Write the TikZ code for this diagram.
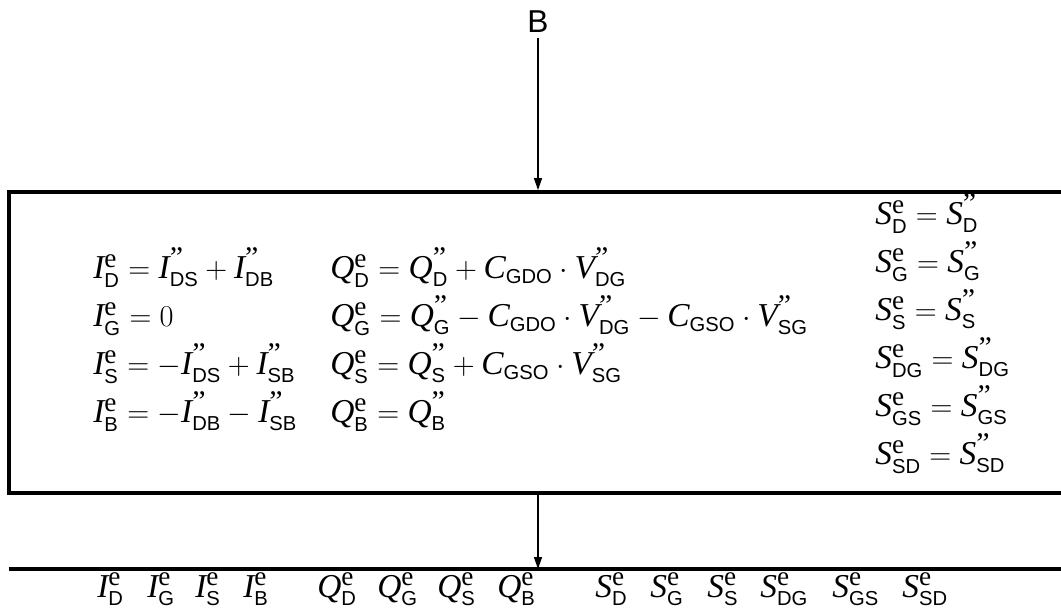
\documentclass[tikz,border=0pt]{standalone}
\usepackage{amsmath}
\usepackage{fontspec}
\setmainfont{Liberation Serif}
\setsansfont{Liberation Sans}
\usetikzlibrary{arrows.meta}
\DeclareMathSizes{19}{19}{11.5}{8}

% external and internal quantities
\newcommand{\supmark}[2]{\mbox{\fontsize{#1}{#1}\selectfont #2}}
\newcommand{\ext}[2]{\mathit{#1}^{\supmark{15.5}{e}}_{\mathsf{#2}}}
\newcommand{\intl}[2]{\mathit{#1}^{\supmark{17}{\textquotedblright}}_{\mathsf{#2}}}
\newcommand{\coef}[1]{\mathit{C}_{\mathsf{#1}}}

\tikzset{
  eqn/.style={anchor=base west, inner sep=0pt, font=\fontsize{19}{23}\selectfont},
  heavy/.style={line width=2.2pt},
  flow/.style={line width=0.8pt, -{Triangle[length=2.4mm,width=1.6mm]}}
}

\begin{document}
\begin{tikzpicture}
    \clip (0,0) rectangle (21.22,-12.28);

    % Input terminal
    \node[font=\fontsize{18}{21}\selectfont\sffamily, inner sep=3pt] (B) at (10.76,-0.44) {B};

    % Mapping box
    \node[heavy, draw, minimum width=21.42cm, minimum height=6.02cm, inner sep=0pt] (frame) at (10.89,-6.85) {};
    \draw[flow] (B.south) -- (B.south |- frame.north);

    % Currents
    \node[eqn] (id) at (1.86,-5.58) {$\ext{I}{D} = \intl{I}{DS} + \intl{I}{DB}$};
    \node[eqn] (ig) at (1.86,-6.54) {$\ext{I}{G} = 0$};
    \node[eqn] (is) at (1.86,-7.50) {$\ext{I}{S} = -\intl{I}{DS} + \intl{I}{SB}$};
    \node[eqn] (ib) at (1.86,-8.46) {$\ext{I}{B} = -\intl{I}{DB} - \intl{I}{SB}$};

    % Charges
    \node[eqn] (qd) at (6.60,-5.58) {$\ext{Q}{D} = \intl{Q}{D} + \coef{GDO}\cdot\intl{V}{DG}$};
    \node[eqn] (qg) at (6.60,-6.54) {$\ext{Q}{G} = \intl{Q}{G} - \coef{GDO}\cdot\intl{V}{DG} - \coef{GSO}\cdot\intl{V}{SG}$};
    \node[eqn] (qs) at (6.60,-7.50) {$\ext{Q}{S} = \intl{Q}{S} + \coef{GSO}\cdot\intl{V}{SG}$};
    \node[eqn] (qb) at (6.60,-8.46) {$\ext{Q}{B} = \intl{Q}{B}$};

    % Noise sources
    \node[eqn] (sd) at (17.50,-4.50) {$\ext{S}{D} = \intl{S}{D}$};
    \node[eqn] (sg) at (17.50,-5.46) {$\ext{S}{G} = \intl{S}{G}$};
    \node[eqn] (ss) at (17.50,-6.42) {$\ext{S}{S} = \intl{S}{S}$};
    \node[eqn] (sdg) at (17.50,-7.38) {$\ext{S}{DG} = \intl{S}{DG}$};
    \node[eqn] (sgs) at (17.50,-8.34) {$\ext{S}{GS} = \intl{S}{GS}$};
    \node[eqn] (ssd) at (17.50,-9.30) {$\ext{S}{SD} = \intl{S}{SD}$};

    % Output bus
    \coordinate (busl) at (0.18,-11.38);
    \coordinate (busr) at (21.60,-11.38);
    \draw[heavy] (busl) -- (busr);
    \draw[flow] (frame.south -| B) -- (B |- busl);

    % Output quantities
    \node[eqn] (oid) at (1.94,-11.94) {$\ext{I}{D}$};
    \node[eqn] (oig) at (2.94,-11.94) {$\ext{I}{G}$};
    \node[eqn] (ois) at (3.90,-11.94) {$\ext{I}{S}$};
    \node[eqn] (oib) at (4.86,-11.94) {$\ext{I}{B}$};
    \node[eqn] (oqd) at (6.34,-11.94) {$\ext{Q}{D}$};
    \node[eqn] (oqg) at (7.54,-11.94) {$\ext{Q}{G}$};
    \node[eqn] (oqs) at (8.74,-11.94) {$\ext{Q}{S}$};
    \node[eqn] (oqb) at (9.94,-11.94) {$\ext{Q}{B}$};
    \node[eqn] (osd) at (11.90,-11.94) {$\ext{S}{D}$};
    \node[eqn] (osg) at (13.00,-11.94) {$\ext{S}{G}$};
    \node[eqn] (oss) at (14.14,-11.94) {$\ext{S}{S}$};
    \node[eqn] (osdg) at (15.20,-11.94) {$\ext{S}{DG}$};
    \node[eqn] (osgs) at (16.64,-11.94) {$\ext{S}{GS}$};
    \node[eqn] (ossd) at (18.04,-11.94) {$\ext{S}{SD}$};
\end{tikzpicture}
\end{document}
